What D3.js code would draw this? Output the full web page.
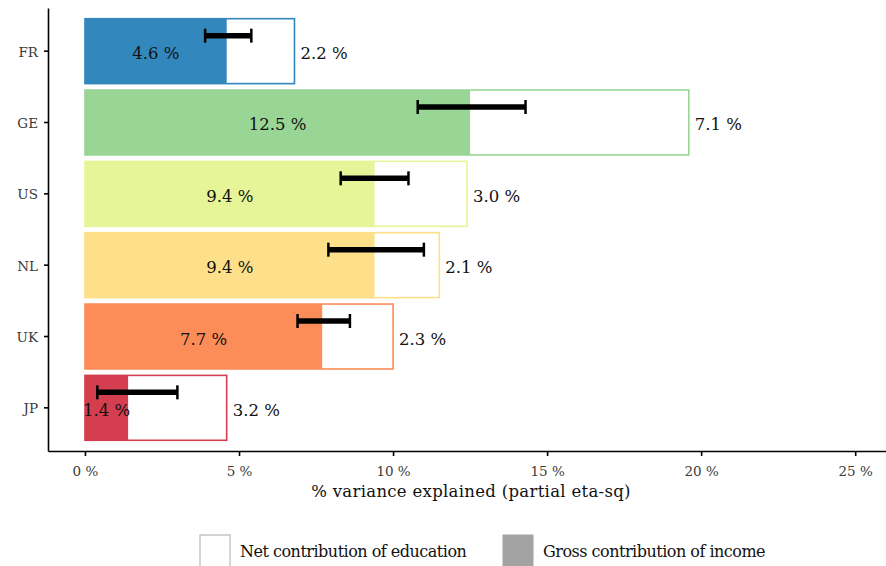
<!doctype html>
<html>
<head>
    <meta charset="utf-8" />
    <title></title>
    <style>
        body { margin: 0; background: #fff; }
        svg text { font-family: "DejaVu Serif", "Liberation Serif", serif; fill: #111; }
        .axis path, .axis line { stroke: #000; stroke-width: 1.6; }
        .axis text { fill: #3a3a3a; }
    </style>
</head>
<body>
    <div id="chart"></div>

    <script src="https://cdn.jsdelivr.net/npm/d3@7"></script>
    <script>
        var countries = ["FR", "GE", "US", "NL", "UK", "JP"];
        var income = [4.6, 12.5, 9.4, 9.4, 7.7, 1.4];      // gross contribution of income
        var education = [2.2, 7.1, 3.0, 2.1, 2.3, 3.2];   // net contribution of education
        var ciLow = [3.9, 10.8, 8.3, 7.9, 6.9, 0.4];
        var ciHigh = [5.4, 14.3, 10.5, 11.0, 8.6, 3.0];
        var colors = ["#3288bd", "#99d594", "#e6f598", "#fee08b", "#fc8d59", "#d53e4f"];
        var xTicks = [0, 5, 10, 15, 20, 25];

        var w = 886, h = 566;

        var svg = d3.select("#chart").append("svg").attr("width", w).attr("height", h);

        var x = d3.scaleLinear().domain([-1.2, 26]).range([48, 886]);
        var y = d3.scaleBand().domain(countries).range([8, 451]).paddingInner(0.09).paddingOuter(0.15);

        var rows = countries.map(function(c, i) {
            return { c: c, inc: income[i], edu: education[i], lo: ciLow[i], hi: ciHigh[i], col: colors[i] };
        });

        // total bar (outlined, white) then income part
        svg.selectAll("rect.total").data(rows).enter().append("rect")
            .attr("class", "total")
            .attr("x", x(0))
            .attr("y", function(d) { return y(d.c); })
            .attr("width", function(d) { return x(d.inc + d.edu) - x(0); })
            .attr("height", y.bandwidth())
            .attr("fill", "#fff")
            .attr("stroke", function(d) { return d.col; })
            .attr("stroke-width", 1.6);

        svg.selectAll("rect.inc").data(rows).enter().append("rect")
            .attr("class", "inc")
            .attr("x", x(0))
            .attr("y", function(d) { return y(d.c); })
            .attr("width", function(d) { return x(d.inc) - x(0); })
            .attr("height", y.bandwidth())
            .attr("fill", function(d) { return d.col; });

        // error bars
        var eb = svg.selectAll("g.err").data(rows).enter().append("g")
            .attr("class", "err")
            .attr("transform", function(d) { return "translate(0," + (y(d.c) + y.bandwidth() / 2 - 15.5) + ")"; });
        eb.append("line")
            .attr("x1", function(d) { return x(d.lo); })
            .attr("x2", function(d) { return x(d.hi); })
            .attr("stroke", "#000").attr("stroke-width", 5.5);
        eb.selectAll("line.cap").data(function(d) { return [d.lo, d.hi]; }).enter().append("line")
            .attr("class", "cap")
            .attr("x1", function(v) { return x(v); })
            .attr("x2", function(v) { return x(v); })
            .attr("y1", -7).attr("y2", 7)
            .attr("stroke", "#000").attr("stroke-width", 2.5);

        // value labels
        svg.selectAll("text.incLab").data(rows).enter().append("text")
            .attr("x", function(d) { return x(d.inc / 2); })
            .attr("y", function(d) { return y(d.c) + y.bandwidth() / 2 + 8; })
            .attr("text-anchor", "middle")
            .style("font-size", "16.5px")
            .text(function(d) { return d.inc.toFixed(1) + " %"; });

        svg.selectAll("text.eduLab").data(rows).enter().append("text")
            .attr("x", function(d) { return x(d.inc + d.edu) + 6; })
            .attr("y", function(d) { return y(d.c) + y.bandwidth() / 2 + 8; })
            .style("font-size", "16.5px")
            .text(function(d) { return d.edu.toFixed(1) + " %"; });

        // axes
        svg.append("g").attr("class", "axis")
            .attr("transform", "translate(0,451)")
            .call(d3.axisBottom(x).tickValues(xTicks).tickSize(5).tickSizeOuter(0)
                .tickFormat(function(d) { return d + " %"; }))
            .selectAll("text")
            .style("font-size", "13.5px")
            .attr("y", 25).attr("dy", 0);

        svg.append("g").attr("class", "axis")
            .attr("transform", "translate(48,0)")
            .call(d3.axisLeft(y).tickSize(4).tickPadding(6).tickSizeOuter(0))
            .selectAll("text")
            .style("font-size", "13.5px")
            .attr("dy", "0.4em");

        svg.append("text")
            .attr("x", 471).attr("y", 497)
            .attr("text-anchor", "middle")
            .style("font-size", "16.5px")
            .style("letter-spacing", "0.3px")
            .text("% variance explained (partial eta-sq)");

        // legend
        var legend = [
            { label: "Net contribution of education", fill: "#fff", x: 200 },
            { label: "Gross contribution of income", fill: "#a3a3a3", x: 503 }
        ];
        var lg = svg.selectAll("g.leg").data(legend).enter().append("g")
            .attr("transform", function(d) { return "translate(" + d.x + ",535)"; });
        lg.append("rect")
            .attr("width", 30).attr("height", 34)
            .attr("fill", function(d) { return d.fill; })
            .attr("stroke", function(d) { return d.fill === "#fff" ? "#aaa" : "#a3a3a3"; });
        lg.append("text")
            .attr("x", 40).attr("y", 22)
            .style("font-size", "16px")
            .style("letter-spacing", "-0.5px")
            .text(function(d) { return d.label; });
    </script>
</body>
</html>
